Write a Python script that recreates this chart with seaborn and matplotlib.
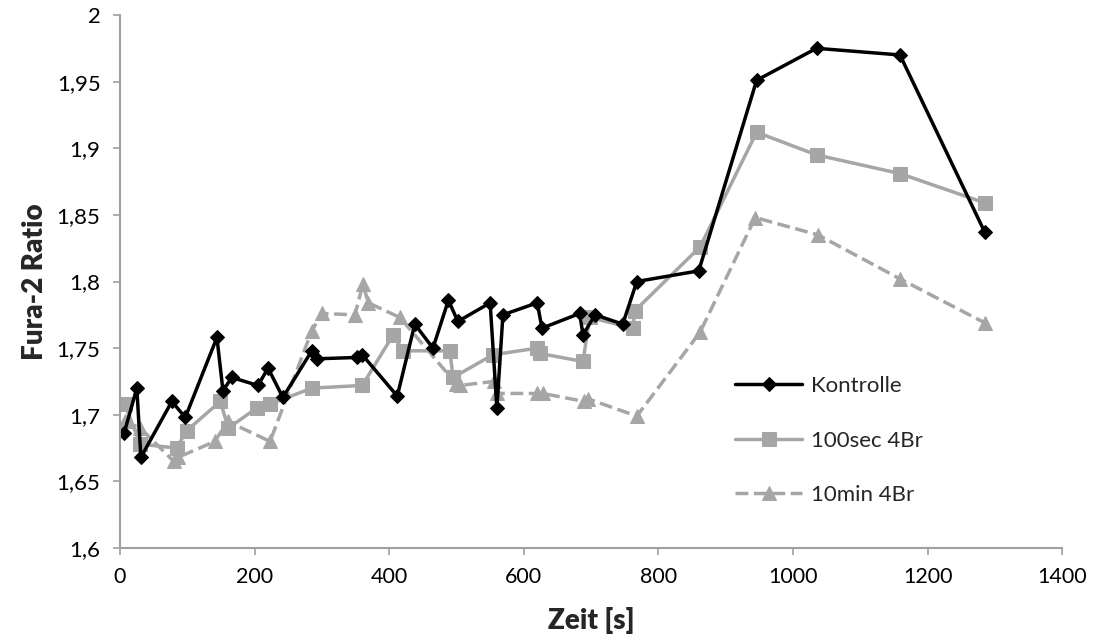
import matplotlib
matplotlib.use("Agg")
import matplotlib.pyplot as plt
import seaborn as sns
import pandas as pd

# Kontrolle
t_kon = [6, 25, 31, 77, 97, 144, 153, 166, 205, 220, 242, 285, 292, 352, 360, 412,
         438, 465, 488, 502, 550, 560, 569, 620, 627, 683, 688, 706, 747, 768, 860,
         946, 1035, 1159, 1285]
v_kon = [1.686, 1.720, 1.668, 1.710, 1.698, 1.758, 1.718, 1.728, 1.722, 1.735, 1.713,
         1.748, 1.742, 1.743, 1.745, 1.714, 1.768, 1.750, 1.786, 1.770, 1.784, 1.705,
         1.775, 1.784, 1.765, 1.776, 1.760, 1.775, 1.768, 1.800, 1.808, 1.951, 1.975,
         1.970, 1.837]

# 100sec 4Br
t_100 = [7, 30, 84, 99, 149, 161, 203, 223, 285, 360, 406, 420, 490, 495, 554, 620,
         624, 688, 698, 762, 765, 862, 946, 1035, 1159, 1285]
v_100 = [1.708, 1.678, 1.675, 1.688, 1.710, 1.690, 1.705, 1.708, 1.720, 1.722, 1.760,
         1.748, 1.748, 1.728, 1.745, 1.750, 1.746, 1.740, 1.773, 1.765, 1.778, 1.826,
         1.912, 1.895, 1.881, 1.859]

# 10min 4Br
t_10 = [7, 30, 80, 86, 141, 160, 223, 285, 300, 349, 361, 369, 416, 500, 505, 555,
        560, 620, 628, 690, 695, 768, 862, 944, 1037, 1159, 1285]
v_10 = [1.695, 1.690, 1.665, 1.668, 1.680, 1.695, 1.680, 1.763, 1.776, 1.775, 1.798,
        1.784, 1.773, 1.723, 1.722, 1.725, 1.716, 1.716, 1.716, 1.710, 1.712, 1.699,
        1.762, 1.848, 1.835, 1.802, 1.769]

labels = ["Kontrolle", "100sec 4Br", "10min 4Br"]
x_ticks = [0, 200, 400, 600, 800, 1000, 1200, 1400]
y_ticks = [1.6, 1.65, 1.7, 1.75, 1.8, 1.85, 1.9, 1.95, 2.0]

sns.set_theme(style="white")
plt.rcParams["font.family"] = ["Lato", "DejaVu Sans"]

fig = plt.figure(figsize=(10.95, 6.43), dpi=100)
ax = fig.add_axes([0.1096, 0.1477, 0.8604, 0.829])

gray = "#a6a6a6"

specs = [
    (t_100, v_100, labels[1], gray, "s", "-", 10),
    (t_10, v_10, labels[2], gray, "^", "--", 10),
    (t_kon, v_kon, labels[0], "black", "D", "-", 7),
]
for t, v, lab, col, mk, ls, ms in specs:
    df = pd.DataFrame({"t": t, "v": v})
    sns.lineplot(data=df, x="t", y="v", ax=ax, color=col, marker=mk, linestyle=ls,
                 markersize=ms, markeredgecolor=col, linewidth=2.5, label=lab,
                 estimator=None, sort=False,
                 dashes=(3, 2.5) if ls == "--" else None)

ax.set_xlim(0, 1400)
ax.set_ylim(1.6, 2.0)
ax.set_xticks(x_ticks)
ax.set_xticklabels([str(x) for x in x_ticks])
ax.set_yticks(y_ticks)
ax.set_yticklabels([f"{y:g}".replace(".", ",") for y in y_ticks])
ax.tick_params(axis="both", which="both", direction="out", length=5, width=1.2,
               color="#a0a0a0", labelsize=16, labelcolor="#000000", left=True,
               bottom=True, pad=9)
ax.tick_params(axis="x", labelsize=15.5)
for s in ["top", "right"]:
    ax.spines[s].set_visible(False)
for s in ["left", "bottom"]:
    ax.spines[s].set_color("#a0a0a0")
    ax.spines[s].set_linewidth(1.5)

ax.set_xlabel("Zeit [s]", fontsize=20, fontweight="heavy", labelpad=14)
ax.set_ylabel("Fura-2 Ratio", fontsize=20, fontweight="heavy", labelpad=6)

h, l = ax.get_legend_handles_labels()
order = [l.index(x) for x in labels]
leg = ax.legend([h[i] for i in order], [l[i] for i in order], loc="upper left",
                bbox_to_anchor=(0.632, 0.36), frameon=False, fontsize=16,
                handlelength=3.0, labelspacing=1.55, handletextpad=0.4)

fig.savefig("out.png", dpi=100)
